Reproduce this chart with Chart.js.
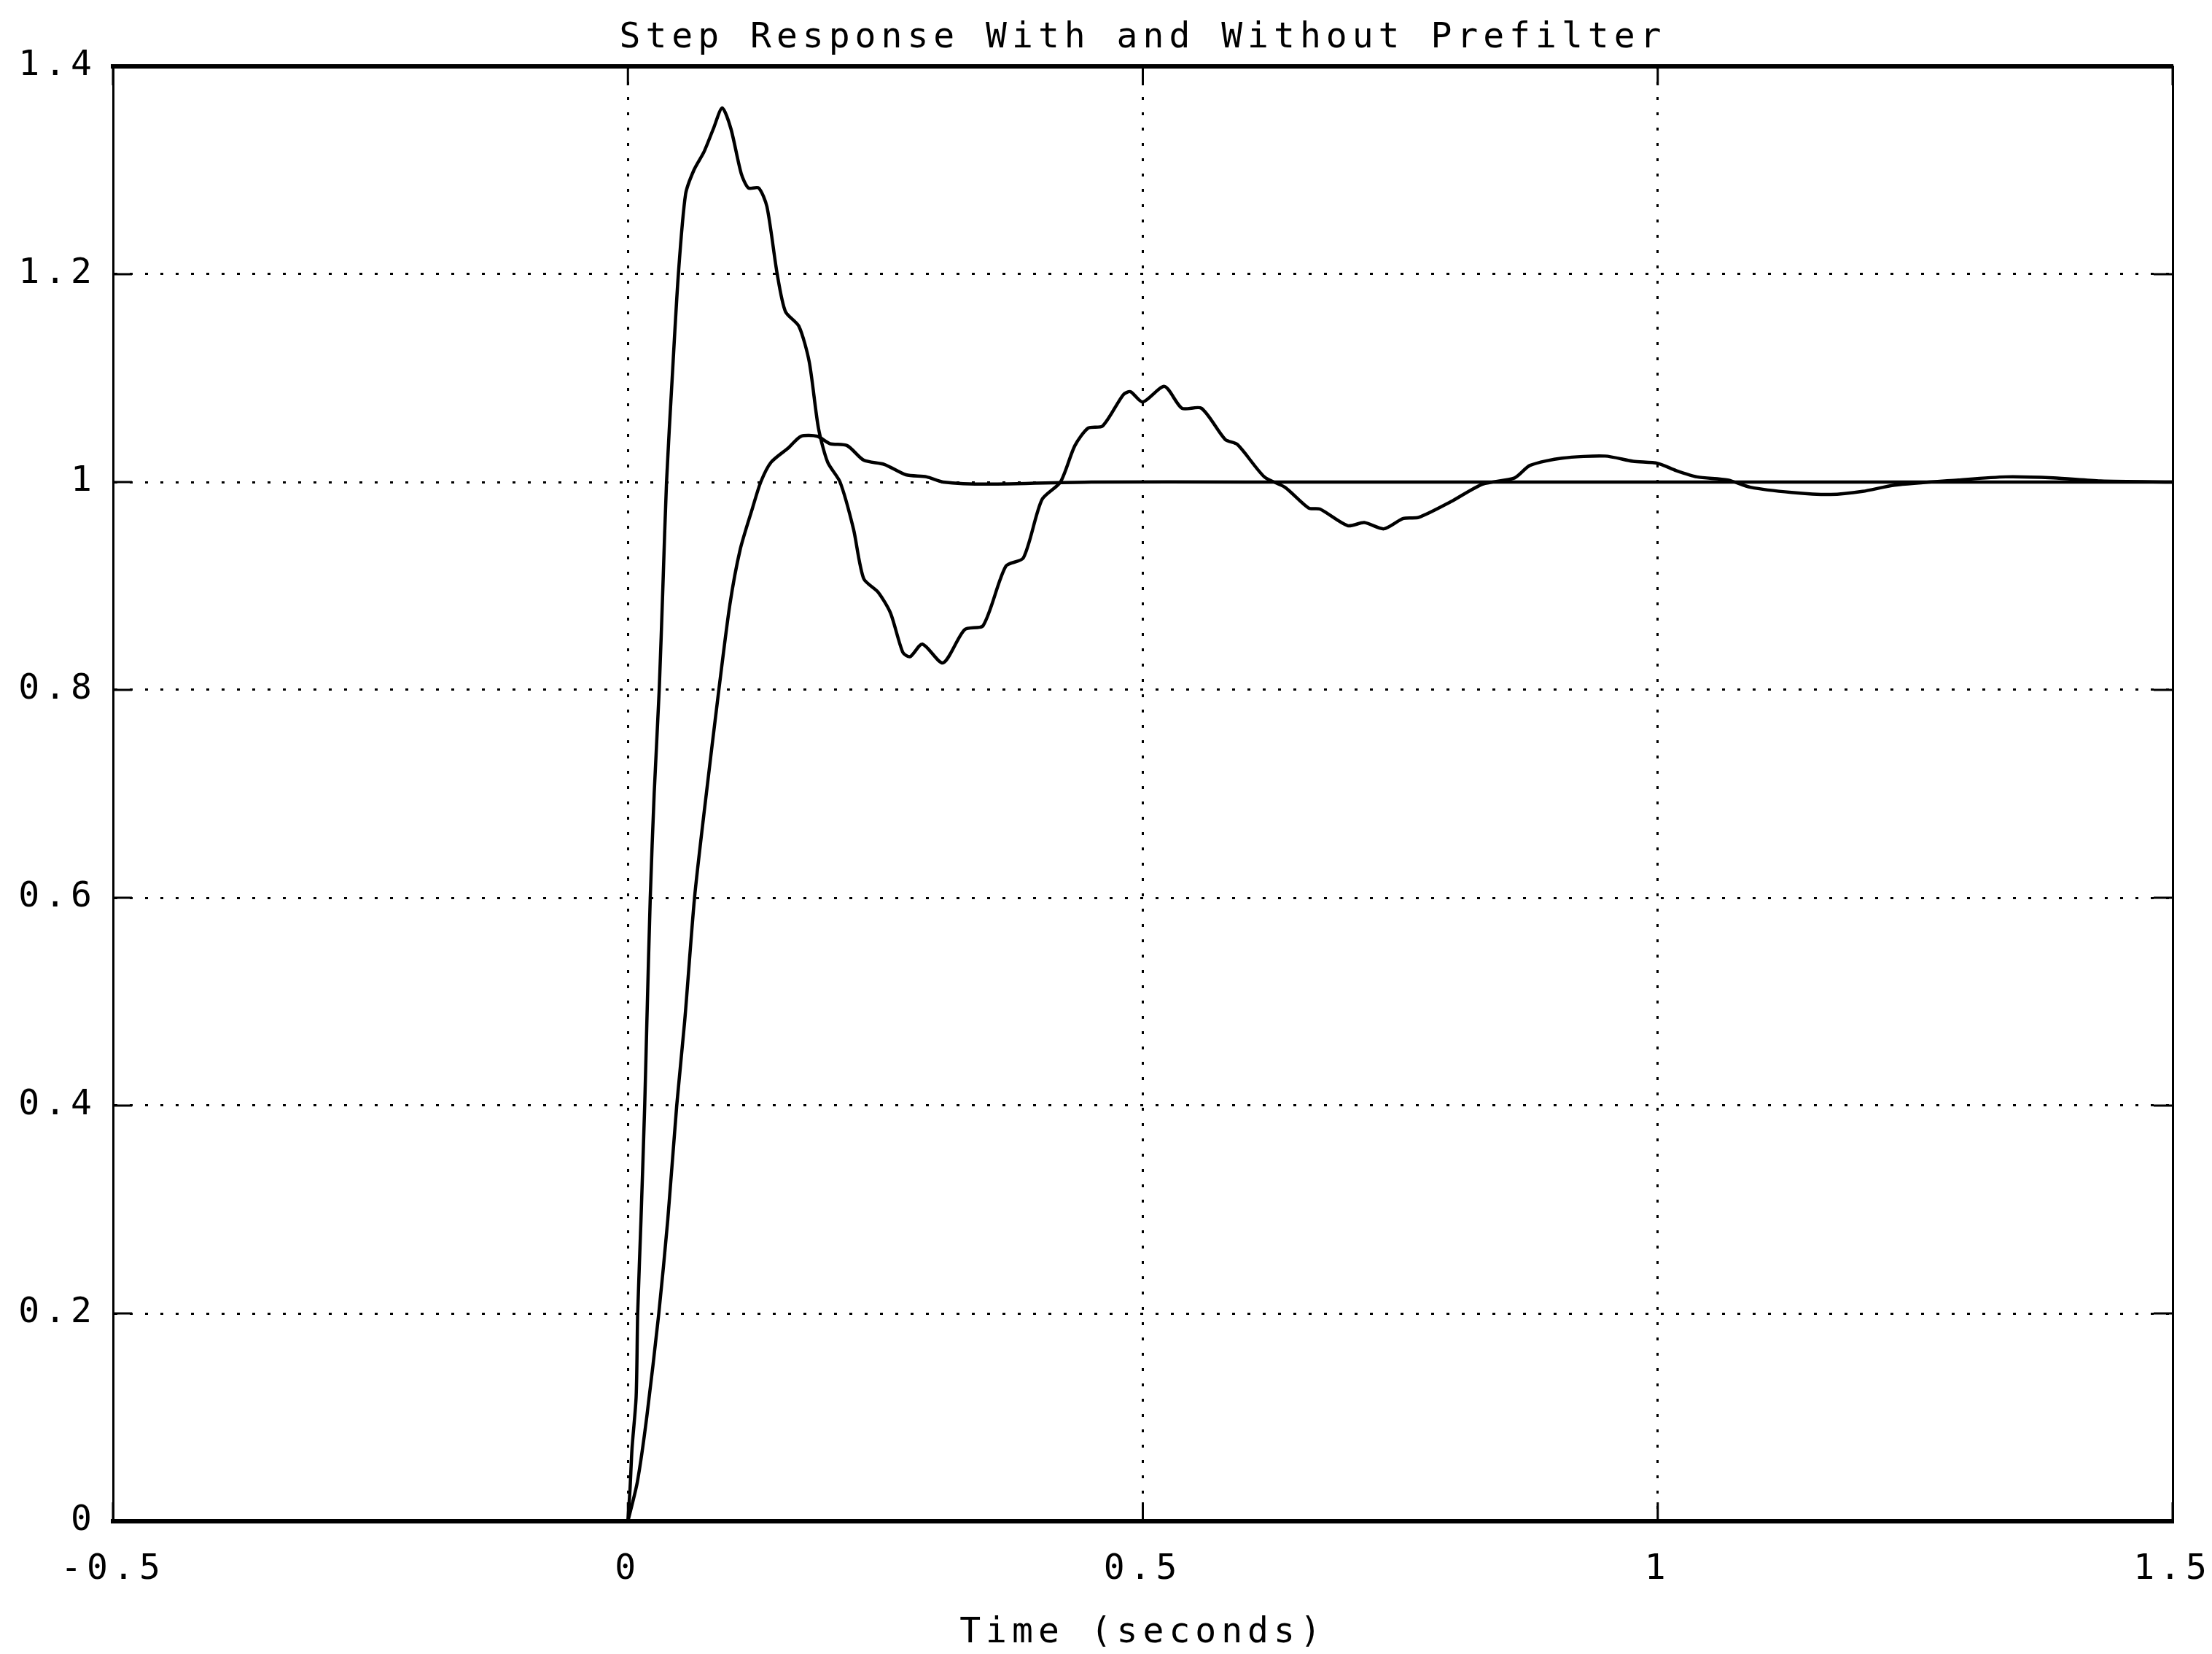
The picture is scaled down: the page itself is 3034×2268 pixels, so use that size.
<!DOCTYPE html>
<html>
<head>
<meta charset="utf-8">
<title>Step Response With and Without Prefilter</title>
<script src="https://cdn.jsdelivr.net/npm/chart.js@4.4.1/dist/chart.umd.min.js"></script>
<style>
  html, body { margin: 0; padding: 0; background: #fff; }
  #wrap { width: 3034px; height: 2268px; }
</style>
</head>
<body>
<div id="wrap"><canvas id="stepChart"></canvas></div>
<script>
// response without prefilter (the one with big overshoot and ripple)
const timeNoFilter = [0, 0.002, 0.004, 0.008, 0.0095, 0.0127, 0.0163, 0.0184, 0.0217, 0.0255, 0.0304, 0.034, 0.0375,
  0.043, 0.049, 0.056, 0.064, 0.074, 0.083, 0.0916, 0.100, 0.110, 0.117, 0.127, 0.135, 0.145, 0.153, 0.166,
  0.176, 0.185, 0.194, 0.206, 0.219, 0.229, 0.243, 0.255, 0.267, 0.274, 0.286, 0.306, 0.327, 0.345, 0.367,
  0.384, 0.402, 0.42, 0.434, 0.447, 0.461, 0.481, 0.488, 0.50, 0.521, 0.538, 0.557, 0.58, 0.592, 0.618,
  0.638, 0.661, 0.672, 0.699, 0.715, 0.734, 0.753, 0.768, 0.799, 0.83, 0.861, 0.876, 0.907, 0.949, 0.976,
  1.0, 1.018, 1.038, 1.068, 1.09, 1.13, 1.168, 1.199, 1.23, 1.292, 1.338, 1.384, 1.43, 1.5];
const respNoFilter = [0, 0.03, 0.07, 0.12, 0.2, 0.29, 0.4, 0.48, 0.6, 0.7, 0.8, 0.9, 1.0,
  1.1, 1.2, 1.277, 1.30, 1.318, 1.34, 1.36, 1.34, 1.297, 1.283, 1.283, 1.265, 1.2, 1.164, 1.15,
  1.116, 1.052, 1.019, 1.0, 0.955, 0.907, 0.894, 0.874, 0.836, 0.832, 0.844, 0.826, 0.858, 0.862, 0.919,
  0.927, 0.983, 1.0, 1.035, 1.052, 1.054, 1.084, 1.087, 1.077, 1.092, 1.071, 1.071, 1.041, 1.036, 1.005,
  0.995, 0.975, 0.974, 0.958, 0.961, 0.955, 0.965, 0.966, 0.981, 0.998, 1.004, 1.016, 1.023, 1.025, 1.02,
  1.018, 1.011, 1.005, 1.002, 0.995, 0.99, 0.988, 0.991, 0.997, 1.002, 1.005, 1.004, 1.001, 1.0];

// response with prefilter
const timeFilter = [0, 0.0092, 0.0184, 0.030, 0.0387, 0.0474, 0.0552, 0.0647, 0.0753, 0.0883, 0.099, 0.109,
  0.121, 0.129, 0.139, 0.156, 0.168, 0.184, 0.196, 0.213, 0.229, 0.249, 0.27, 0.29, 0.306, 0.35, 0.45,
  0.6, 0.8, 1.0, 1.2, 1.5];
const respFilter = [0, 0.038, 0.101, 0.2, 0.29, 0.4, 0.482, 0.6, 0.693, 0.8, 0.882, 0.935,
  0.975, 1.0, 1.019, 1.033, 1.044, 1.044, 1.037, 1.035, 1.021, 1.017, 1.007, 1.005, 1.0, 0.998, 1.0,
  1.0, 1.0, 1.0, 1.0, 1.0];

const xTicks = [-0.5, 0, 0.5, 1, 1.5];
const yTicks = [0, 0.2, 0.4, 0.6, 0.8, 1, 1.2, 1.4];

const monoFont = "'DejaVu Sans Mono', 'Liberation Mono', monospace";
const textSize = 48;
Chart.defaults.font.family = monoFont;
Chart.defaults.color = '#000';

// wide letter spacing like the old plotter text, plus short inward ticks on the frame
const plotterLook = {
  id: 'plotterLook',
  beforeDraw(chart) {
    chart.ctx.letterSpacing = '7px';
  },
  afterDatasetsDraw(chart) {
    const { ctx, chartArea: a, scales } = chart;
    const len = 26;
    ctx.save();
    ctx.strokeStyle = '#000';
    ctx.lineWidth = 3;
    ctx.beginPath();
    xTicks.forEach(v => {
      const px = scales.x.getPixelForValue(v);
      ctx.moveTo(px, a.top); ctx.lineTo(px, a.top + len);
      ctx.moveTo(px, a.bottom); ctx.lineTo(px, a.bottom - len);
    });
    yTicks.forEach(v => {
      const py = scales.y.getPixelForValue(v);
      ctx.moveTo(a.left, py); ctx.lineTo(a.left + len, py);
      ctx.moveTo(a.right, py); ctx.lineTo(a.right - len, py);
    });
    ctx.stroke();
    ctx.restore();
  }
};

const toPoints = (ts, vs) => ts.map((t, i) => ({ x: t, y: vs[i] }));

const dotted = [4, 17];

new Chart(document.getElementById('stepChart'), {
  type: 'line',
  data: {
    datasets: [
      {
        label: 'Without prefilter',
        data: toPoints(timeNoFilter, respNoFilter),
        borderColor: '#000',
        borderWidth: 4.5,
        pointRadius: 0,
        tension: 0.25,
        fill: false
      },
      {
        label: 'With prefilter',
        data: toPoints(timeFilter, respFilter),
        borderColor: '#000',
        borderWidth: 4.5,
        pointRadius: 0,
        tension: 0.25,
        fill: false
      }
    ]
  },
  options: {
    responsive: true,
    maintainAspectRatio: false,
    animation: false,
    layout: { padding: { left: 0, right: 54, top: 0, bottom: 0 } },
    plugins: {
      legend: { display: false },
      tooltip: { enabled: false }
    },
    scales: {
      x: {
        type: 'linear',
        position: 'bottom',
        min: -0.5,
        max: 1.5,
        afterBuildTicks: s => { s.ticks = xTicks.map(v => ({ value: v })); },
        afterFit: s => { s.height = 182; s.paddingLeft = 0; s.paddingRight = 0; },
        ticks: {
          autoSkip: false,
          maxRotation: 0,
          padding: 38,
          font: { size: textSize },
          color: '#000',
          callback: v => String(v)
        },
        grid: { color: '#000', lineWidth: 3, drawTicks: false },
        border: { display: true, color: '#000', width: 6, dash: dotted },
        title: {
          display: true,
          text: 'Time (seconds)',
          font: { size: textSize },
          color: '#000',
          padding: { top: 0, bottom: 0 }
        }
      },
      x2: {
        type: 'linear',
        position: 'top',
        grid: { display: false },
        ticks: { display: false },
        border: { display: true, color: '#000', width: 6 },
        afterFit: s => { s.height = 91; },
        title: {
          display: true,
          text: 'Step Response With and Without Prefilter',
          font: { size: textSize },
          color: '#000',
          padding: { top: 24, bottom: 0 }
        }
      },
      y: {
        type: 'linear',
        position: 'left',
        min: 0,
        max: 1.4,
        afterBuildTicks: s => { s.ticks = yTicks.map(v => ({ value: v })); },
        afterFit: s => { s.width = 155; },
        ticks: {
          padding: 22,
          font: { size: textSize },
          color: '#000',
          callback: v => String(v)
        },
        grid: { color: '#000', lineWidth: 3, drawTicks: false },
        border: { display: true, color: '#000', width: 3, dash: dotted }
      },
      y2: {
        type: 'linear',
        position: 'right',
        grid: { display: false },
        ticks: { display: false },
        border: { display: true, color: '#000', width: 3 },
        afterFit: s => { s.width = 0; }
      }
    }
  },
  plugins: [plotterLook]
});
</script>
</body>
</html>
